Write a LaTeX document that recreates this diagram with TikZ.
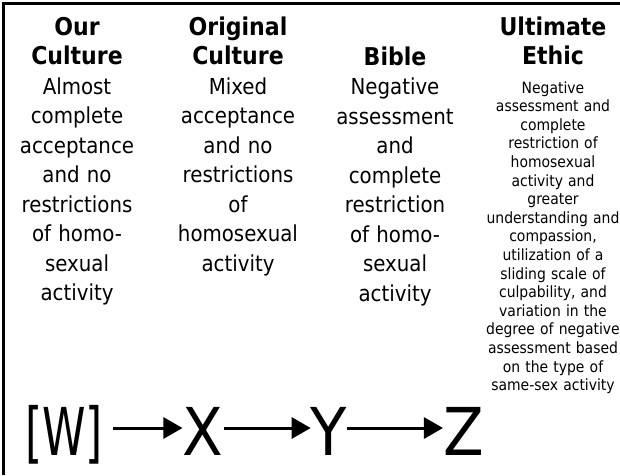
\documentclass[tikz,border=0pt]{standalone}
\usepackage{fontspec}
\setmainfont{DejaVu Sans Condensed}
\usetikzlibrary{arrows.meta}
\tikzset{
  coltext/.style={anchor=base, inner sep=0pt, align=center, text width=160pt,
    font=\fontsize{22}{29.5}\selectfont},
  headtext/.style={font=\fontsize{24.5}{29.5}\selectfont\bfseries},
  smalltext/.style={anchor=base, inner sep=0pt, align=center, text width=160pt,
    font=\fontsize{15.5}{18.6}\selectfont},
  bigletter/.style={anchor=base, inner sep=0pt, font=\fontsize{66}{70}\selectfont},
  flowarrow/.style={line width=3pt, -{Triangle[length=19pt,width=21pt]}},
  frameline/.style={line width=3pt}
}
\newcommand{\hd}[1]{{\fontsize{24.5}{29.5}\selectfont\bfseries #1}}
\begin{document}
\begin{tikzpicture}[x=1pt,y=1pt]
\useasboundingbox (0,0) rectangle (620,-475);
\coordinate (tr) at (620,-3.5);
\coordinate (tl) at (3.5,-3.5);
\coordinate (bl) at (3.5,-475);
\draw[frameline] (tr) -- (tl) -- (bl);

\node[coltext] (c1) at (77,-35) {\hd{Our}\\\hd{Culture}\\Almost\\complete\\acceptance\\and no\\restrictions\\of homo-\\sexual\\activity};
\node[coltext] (c2) at (238,-35) {\hd{Original}\\\hd{Culture}\\Mixed\\acceptance\\and no\\restrictions\\of\\homosexual\\activity};
\node[coltext] (c3) at (395,-65) {\hd{Bible}\\Negative\\assessment\\and\\complete\\restriction\\of homo-\\sexual\\activity};
\node[coltext] (c4) at (553,-35) {\hd{Ultimate}\\\hd{Ethic}};
\node[smalltext] (c4b) at (553,-93) {Negative\\assessment and\\complete\\restriction of\\homosexual\\activity and\\greater\\understanding and\\compassion,\\utilization of a\\sliding scale of\\culpability, and\\variation in the\\degree of negative\\assessment based\\on the type of\\same-sex activity};

\node[bigletter, xscale=0.74, transform shape] (w) at (64,-455) {[W]};
\node[bigletter] (x) at (203,-455) {X};
\node[bigletter] (y) at (329,-455) {Y};
\node[bigletter] (z) at (463.5,-455) {Z};

\coordinate (ay) at (0,-428);
\draw[flowarrow, shorten <=10pt] (w.east |- ay) -- (x.west |- ay);
\draw[flowarrow] (x.east |- ay) -- (y.west |- ay);
\draw[flowarrow] (y.east |- ay) -- (z.west |- ay);
\end{tikzpicture}
\end{document}
